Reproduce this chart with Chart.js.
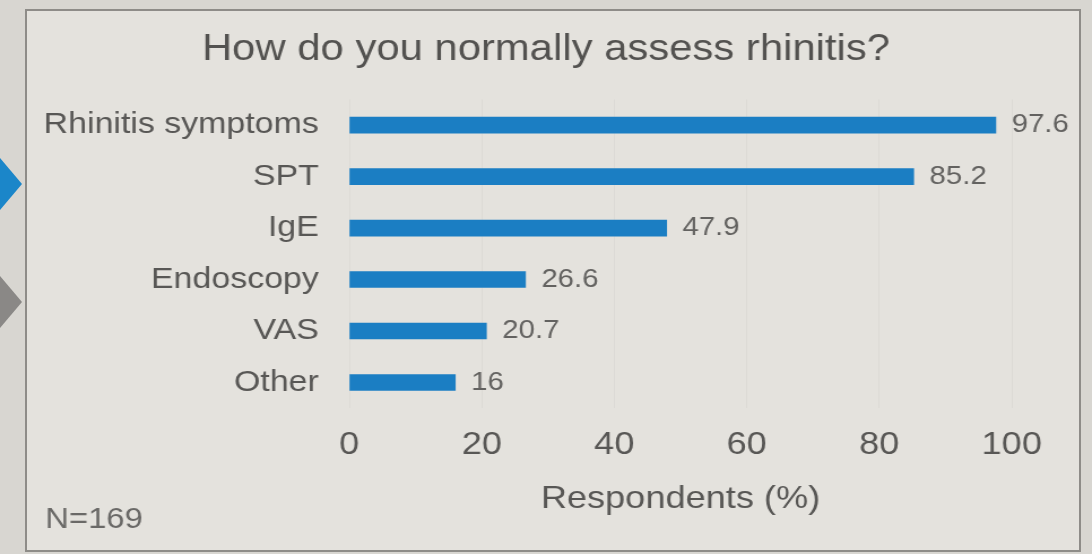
<!DOCTYPE html>
<html>
<head>
<meta charset="utf-8">
<title>How do you normally assess rhinitis?</title>
<script src="https://cdn.jsdelivr.net/npm/chart.js@4.4.0/dist/chart.umd.min.js"></script>
<style>
  html, body { margin: 0; padding: 0; width: 1092px; height: 554px; overflow: hidden; background: #d8d6d1; }
  #frame { position: absolute; left: 25px; top: 9px; width: 1052px; height: 539px; border: 2px solid #8e8c88; background: #e4e2dd; }
  /* chữ trên slide hơi rộng ngang: vẽ ở 966px rồi kéo giãn ra 1092px */
  #wrap { position: absolute; left: 0; top: 0; width: 966px; height: 554px; transform: scaleX(1.1304); transform-origin: 0 0; }
  .arrow { position: absolute; left: 0; width: 22px; height: 52px; clip-path: polygon(0 0, 100% 50%, 0 100%); }
</style>
</head>
<body>
<div id="frame"></div>
<div class="arrow" style="top:158px; background:#1b86c9;"></div>
<div class="arrow" style="top:276px; background:#8a8886;"></div>
<div id="wrap"><canvas id="chartCanvas"></canvas></div>
<script>
// Kết quả khảo sát (% người trả lời)
const categories = ['Rhinitis symptoms', 'SPT', 'IgE', 'Endoscopy', 'VAS', 'Other'];
const values = [97.6, 85.2, 47.9, 26.6, 20.7, 16];
const xTicks = [0, 20, 40, 60, 80, 100];
const sampleNote = 'N=169';

const FONT = "'Liberation Sans', Arial, sans-serif";
const barColor = '#1b7ec3';
const textColor = '#585755';

// Vẽ số liệu cạnh mỗi thanh và ghi chú N ở góc dưới
const valueLabels = {
    id: 'valueLabels',
    afterDatasetsDraw(chart) {
        const ctx = chart.ctx;
        const meta = chart.getDatasetMeta(0);
        ctx.save();
        ctx.font = '26px ' + FONT;
        ctx.fillStyle = '#636260';
        ctx.textAlign = 'left';
        ctx.textBaseline = 'middle';
        meta.data.forEach((bar, i) => {
            ctx.fillText(String(values[i]), bar.x + 14, bar.y);
        });
        ctx.font = '29px ' + FONT;
        ctx.fillStyle = '#6a6967';
        ctx.fillText(sampleNote, 40, 520);
        ctx.restore();
    }
};

const ctx = document.getElementById('chartCanvas').getContext('2d');
const chart = new Chart(ctx, {
    type: 'bar',
    data: {
        labels: categories,
        datasets: [{
            data: values,
            backgroundColor: barColor,
            borderWidth: 0,
            barThickness: 16,
        }]
    },
    options: {
        indexAxis: 'y',
        responsive: true,
        maintainAspectRatio: false,
        animation: false,
        layout: { padding: { top: 0, right: 0, bottom: 36, left: 0 } },
        plugins: {
            legend: { display: false },
            tooltip: { enabled: false },
            title: {
                display: true,
                text: 'How do you normally assess rhinitis?',
                color: '#535250',
                font: { family: FONT, size: 37, weight: 'normal' },
                padding: { top: 28, bottom: 27 },
            }
        },
        scales: {
            x: {
                min: 0,
                max: 100,
                afterBuildTicks(scale) {
                    scale.ticks = xTicks.map(v => ({ value: v }));
                },
                grid: { display: true, color: 'rgba(0,0,0,0.035)', drawTicks: false },
                border: { display: false },
                ticks: {
                    padding: 18,
                    color: textColor,
                    font: { family: FONT, size: 32 },
                },
                title: {
                    display: true,
                    text: 'Respondents (%)',
                    color: textColor,
                    font: { family: FONT, size: 32 },
                    padding: { top: -3, bottom: 0 },
                }
            },
            y: {
                afterFit(scale) { scale.width = 309; },
                grid: { display: false, drawTicks: false },
                border: { display: false },
                ticks: {
                    padding: 27,
                    color: textColor,
                    font: { family: FONT, size: 30 },
                }
            },
            // trục phụ bên phải, chỉ để chừa chỗ cho nhãn số liệu
            yRight: {
                type: 'linear',
                position: 'right',
                afterFit(scale) { scale.width = 71; },
                grid: { display: false, drawTicks: false },
                border: { display: false },
                ticks: { display: false }
            }
        }
    },
    plugins: [valueLabels]
});
</script>
</body>
</html>
